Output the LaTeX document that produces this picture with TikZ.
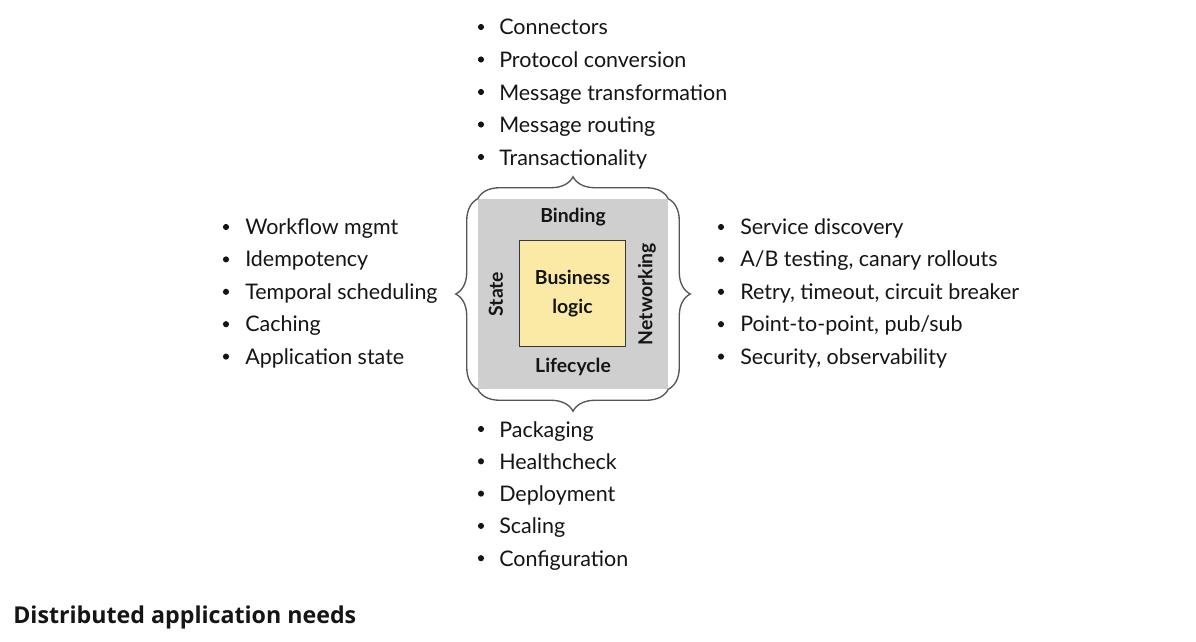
\documentclass[tikz,border=0pt]{standalone}
\usepackage{fontspec}
\setmainfont{Lato}
\newfontfamily\titlefont{Open Sans}
\usetikzlibrary{decorations.pathreplacing}
\definecolor{boxgray}{RGB}{207,207,207}
\definecolor{logicyellow}{RGB}{251,234,166}
\definecolor{bracegray}{RGB}{85,85,85}
\definecolor{txt}{RGB}{21,21,21}
\tikzset{
  item/.style={anchor=base west, inner sep=0pt, font=\fontsize{16.1pt}{19pt}\selectfont, text=txt},
  bul/.style={circle, fill=txt, inner sep=0pt, minimum size=4.6pt},
  inlabel/.style={font=\fontsize{14.5pt}{17pt}\selectfont\bfseries, text=txt, inner sep=0pt},
  bracestyle/.style={draw=bracegray, line width=1pt, decorate, decoration={brace, amplitude=16.5pt}},
}
\begin{document}
\begin{tikzpicture}[x=0.75pt,y=-0.75pt]
\useasboundingbox (0,0) rectangle (1196,642);
\fill[white] (0,0) rectangle (1196,642);
% boxes
\node[fill=boxgray, minimum width=142.5pt, minimum height=142.5pt, inner sep=0pt] (outer) at (573,294) {};
\node[fill=logicyellow, draw=txt!85, line width=0.8pt, minimum width=80pt, minimum height=80pt, inner sep=0pt, align=center, font=\fontsize{14.5pt}{22pt}\selectfont\bfseries, text=txt] (logic) at (572.5,293.5) {Business\\logic};
\node[inlabel] (binding) at (573,217) {Binding};
\node[inlabel] (lifecycle) at (573,367) {Lifecycle};
\node[inlabel, rotate=90] (state) at (496,294) {State};
\node[inlabel, rotate=90] (networking) at (647,294) {Networking};
% braces
\draw[bracestyle] (outer.north west) -- (outer.north east);
\draw[bracestyle] (outer.north east) -- (outer.south east);
\draw[bracestyle] (outer.south east) -- (outer.south west);
\draw[bracestyle] (outer.south west) -- (outer.north west);
% top list
\foreach \t [count=\i from 0] in {Connectors,Protocol conversion,Message transformation,Message routing,Transactionality}{
  \node[bul] (tb\i) at (481,{27+32.5*\i}) {};
  \node[item] (tt\i) at (499,{35+32.5*\i}) {\t};
}
% left list
\foreach \t [count=\i from 0] in {Workflow mgmt,Idempotency,Temporal scheduling,Caching,Application state}{
  \node[bul] (lb\i) at (226,{227+32.4*\i}) {};
  \node[item] (lt\i) at (245,{234.5+32.4*\i}) {\t};
}
% right list
\foreach \t [count=\i from 0] in {Service discovery,{A/B testing, canary rollouts},{Retry, timeout, circuit breaker},{Point-to-point, pub/sub},{Security, observability}}{
  \node[bul] (rb\i) at (721,{227+32.4*\i}) {};
  \node[item] (rt\i) at (740,{234.5+32.4*\i}) {\t};
}
% bottom list
\foreach \t [count=\i from 0] in {Packaging,Healthcheck,Deployment,Scaling,Configuration}{
  \node[bul] (bb\i) at (481,{429+32.3*\i}) {};
  \node[item] (bt\i) at (499,{437+32.3*\i}) {\t};
}
% title
\node[anchor=base west, inner sep=0pt, font=\titlefont\fontsize{17.4pt}{20pt}\selectfont\bfseries, text=txt] (title) at (13,623) {Distributed application needs};
\end{tikzpicture}
\end{document}
